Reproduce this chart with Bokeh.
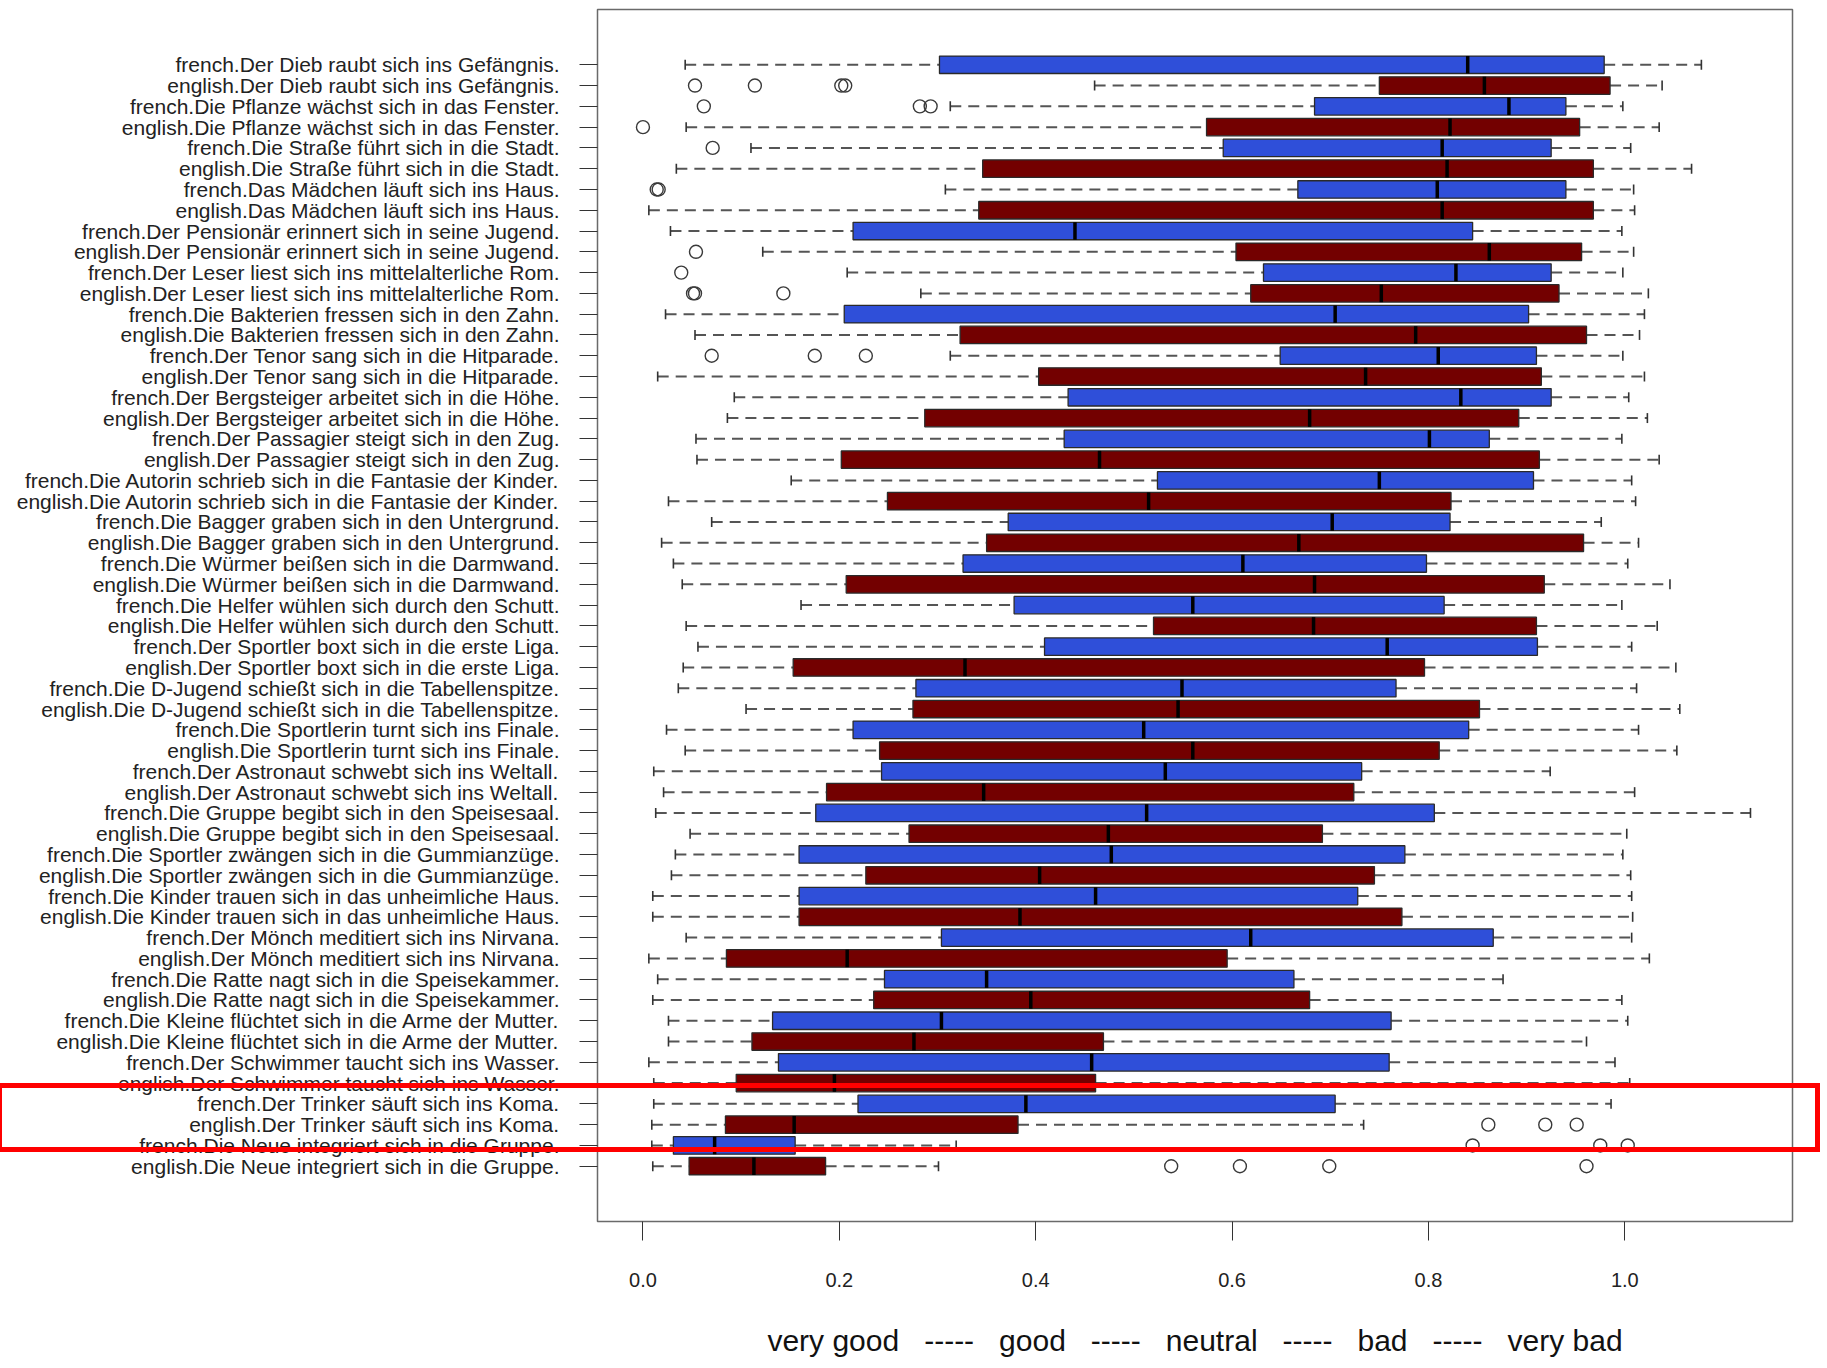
from bokeh.plotting import figure
from bokeh.models import Range1d, FixedTicker, ColumnDataSource, PrintfTickFormatter, Div
from bokeh.layouts import column
from bokeh.embed import file_html
from bokeh.resources import INLINE

# ---------------- data (top row first) ----------------
sentences = [
    "Der Dieb raubt sich ins Gefängnis.",
    "Die Pflanze wächst sich in das Fenster.",
    "Die Straße führt sich in die Stadt.",
    "Das Mädchen läuft sich ins Haus.",
    "Der Pensionär erinnert sich in seine Jugend.",
    "Der Leser liest sich ins mittelalterliche Rom.",
    "Die Bakterien fressen sich in den Zahn.",
    "Der Tenor sang sich in die Hitparade.",
    "Der Bergsteiger arbeitet sich in die Höhe.",
    "Der Passagier steigt sich in den Zug.",
    "Die Autorin schrieb sich in die Fantasie der Kinder.",
    "Die Bagger graben sich in den Untergrund.",
    "Die Würmer beißen sich in die Darmwand.",
    "Die Helfer wühlen sich durch den Schutt.",
    "Der Sportler boxt sich in die erste Liga.",
    "Die D-Jugend schießt sich in die Tabellenspitze.",
    "Die Sportlerin turnt sich ins Finale.",
    "Der Astronaut schwebt sich ins Weltall.",
    "Die Gruppe begibt sich in den Speisesaal.",
    "Die Sportler zwängen sich in die Gummianzüge.",
    "Die Kinder trauen sich in das unheimliche Haus.",
    "Der Mönch meditiert sich ins Nirvana.",
    "Die Ratte nagt sich in die Speisekammer.",
    "Die Kleine flüchtet sich in die Arme der Mutter.",
    "Der Schwimmer taucht sich ins Wasser.",
    "Der Trinker säuft sich ins Koma.",
    "Die Neue integriert sich in die Gruppe.",
]
groups = ["french", "english"]
labels = [g + "." + s for s in sentences for g in groups]

lower_whisker = [0.043, 0.460, 0.313, 0.044, 0.110, 0.034, 0.308, 0.006, 0.028, 0.122,
                 0.208, 0.283, 0.023, 0.053, 0.313, 0.015, 0.093, 0.086, 0.054, 0.055,
                 0.151, 0.026, 0.070, 0.019, 0.031, 0.040, 0.161, 0.044, 0.056, 0.041,
                 0.036, 0.105, 0.024, 0.043, 0.011, 0.021, 0.013, 0.048, 0.033, 0.029,
                 0.010, 0.010, 0.044, 0.006, 0.015, 0.010, 0.026, 0.026, 0.006, 0.011,
                 0.011, 0.009, 0.009, 0.010]
q1 = [0.302, 0.750, 0.684, 0.574, 0.591, 0.346, 0.667, 0.342, 0.214, 0.604,
      0.632, 0.619, 0.205, 0.323, 0.649, 0.403, 0.433, 0.287, 0.429, 0.202,
      0.524, 0.249, 0.372, 0.350, 0.326, 0.207, 0.378, 0.520, 0.409, 0.153,
      0.278, 0.275, 0.214, 0.241, 0.243, 0.187, 0.176, 0.271, 0.159, 0.227,
      0.159, 0.159, 0.304, 0.085, 0.246, 0.235, 0.132, 0.111, 0.138, 0.095,
      0.219, 0.084, 0.031, 0.047]
median = [0.840, 0.857, 0.882, 0.822, 0.814, 0.819, 0.809, 0.814, 0.440, 0.862,
          0.828, 0.752, 0.705, 0.787, 0.810, 0.736, 0.833, 0.679, 0.801, 0.465,
          0.750, 0.515, 0.702, 0.668, 0.611, 0.684, 0.560, 0.683, 0.758, 0.328,
          0.549, 0.545, 0.510, 0.560, 0.532, 0.347, 0.513, 0.474, 0.477, 0.404,
          0.461, 0.384, 0.619, 0.208, 0.350, 0.395, 0.304, 0.276, 0.457, 0.195,
          0.390, 0.154, 0.073, 0.113]
q3 = [0.979, 0.985, 0.940, 0.954, 0.925, 0.968, 0.940, 0.968, 0.845, 0.956,
      0.925, 0.933, 0.902, 0.961, 0.910, 0.915, 0.925, 0.892, 0.862, 0.913,
      0.907, 0.823, 0.822, 0.958, 0.798, 0.918, 0.816, 0.910, 0.911, 0.796,
      0.767, 0.852, 0.841, 0.811, 0.732, 0.724, 0.806, 0.692, 0.776, 0.745,
      0.728, 0.773, 0.866, 0.595, 0.663, 0.679, 0.762, 0.469, 0.760, 0.461,
      0.705, 0.382, 0.155, 0.186]
upper_whisker = [1.078, 1.038, 0.998, 1.035, 1.006, 1.068, 1.009, 1.010, 0.997, 1.009,
                 0.998, 1.024, 1.020, 1.015, 0.998, 1.020, 1.004, 1.023, 0.997, 1.035,
                 1.007, 1.011, 0.976, 1.014, 1.003, 1.046, 0.997, 1.033, 1.007, 1.052,
                 1.012, 1.056, 1.014, 1.053, 0.924, 1.010, 1.128, 1.002, 0.998, 1.006,
                 1.007, 1.008, 1.007, 1.025, 0.876, 0.997, 1.003, 0.961, 0.990, 1.005,
                 0.986, 0.734, 0.319, 0.301]

# outliers: row index (0 = top row) and value
outlier_row = [1, 1, 1, 1, 2, 2, 2, 3, 4, 6, 6, 9, 10, 11, 11, 11, 14, 14, 14,
               51, 51, 51, 52, 52, 52, 53, 53, 53, 53]
outlier_val = [0.053, 0.114, 0.202, 0.206, 0.062, 0.282, 0.293, 0.000, 0.071, 0.014, 0.016,
               0.054, 0.039, 0.051, 0.053, 0.143, 0.070, 0.175, 0.227,
               0.861, 0.919, 0.951, 0.845, 0.975, 1.003, 0.538, 0.608, 0.699, 0.961]

x_ticks = [0.0, 0.2, 0.4, 0.6, 0.8, 1.0]
x_title = "\u00a0\u00a0\u00a0".join(["very good", "-----", "good", "-----", "neutral",
                                     "-----", "bad", "-----", "very bad"])
highlight = ["french.Der Trinker säuft sich ins Koma.",
             "english.Der Trinker säuft sich ins Koma."]

group_colors = {"french": "#2f4fd9", "english": "#730000"}

# ---------------- layout constants ----------------
W, H = 1800, 1368
B_LEFT, B_RIGHT, B_TOP, B_BOTTOM = 597, 8, 9, 147
X0, X1 = -0.0463, 1.1708
Y0, Y1 = -1.66, 56.66
FONT = "Liberation Sans"

# ---------------- derived ----------------
n = len(labels)
ypos = [n - i for i in range(n)]
colors = [group_colors[l.split(".")[0]] for l in labels]
cap_half = 0.24
med_half = 0.42

src = ColumnDataSource(dict(
    y=ypos, lw=lower_whisker, q1=q1, med=median, q3=q3, uw=upper_whisker, color=colors,
    cap_lo=[y - cap_half for y in ypos], cap_hi=[y + cap_half for y in ypos],
    med_lo=[y - med_half for y in ypos], med_hi=[y + med_half for y in ypos],
))
out_src = ColumnDataSource(dict(x=outlier_val, y=[ypos[r] for r in outlier_row]))

p = figure(width=W, height=H,
           x_range=Range1d(X0, X1), y_range=Range1d(Y0, Y1),
           output_backend="svg", toolbar_location=None,
           min_border_left=B_LEFT, min_border_right=B_RIGHT,
           min_border_top=B_TOP, min_border_bottom=B_BOTTOM)
p.background_fill_color = "white"
p.border_fill_color = "white"
p.xgrid.visible = False
p.ygrid.visible = False
p.outline_line_color = "#6a6a6a"
p.outline_line_width = 1.5

# x axis
xa = p.xaxis[0]
xa.ticker = FixedTicker(ticks=x_ticks)
xa.formatter = PrintfTickFormatter(format="%.1f")
xa.axis_line_color = None
xa.major_tick_in = 0
xa.major_tick_out = 19
xa.major_tick_line_color = "#333333"
xa.minor_tick_line_color = None
xa.major_label_text_font = FONT
xa.major_label_text_font_size = "20px"
xa.major_label_text_color = "#222222"
xa.major_label_standoff = 32
xa.axis_label = x_title
xa.axis_label_text_font = FONT
xa.axis_label_text_font_style = "normal"
xa.axis_label_text_font_size = "30px"
xa.axis_label_text_color = "#111111"
xa.axis_label_standoff = 34

# y axis
ya = p.yaxis[0]
ya.ticker = FixedTicker(ticks=ypos)
ya.major_label_overrides = {y: l for y, l in zip(ypos, labels)}
ya.axis_line_color = None
ya.major_tick_in = 0
ya.major_tick_out = 18
ya.major_tick_line_color = "#333333"
ya.minor_tick_line_color = None
ya.major_label_text_font = FONT
ya.major_label_text_font_size = "21px"
ya.major_label_text_color = "#222222"
ya.major_label_standoff = 20

# whiskers
wkw = dict(source=src, line_color="#555555", line_width=2, line_dash="11 7")
p.segment(x0="lw", y0="y", x1="q1", y1="y", **wkw)
p.segment(x0="q3", y0="y", x1="uw", y1="y", **wkw)
ckw = dict(source=src, line_color="#333333", line_width=1.6)
p.segment(x0="lw", y0="cap_lo", x1="lw", y1="cap_hi", **ckw)
p.segment(x0="uw", y0="cap_lo", x1="uw", y1="cap_hi", **ckw)

# boxes
p.hbar(y="y", left="q1", right="q3", height=0.84, source=src,
       fill_color="color", line_color="#2a2a2a", line_width=1.3)
p.segment(x0="med", y0="med_lo", x1="med", y1="med_hi", source=src,
          line_color="black", line_width=3.5)

# outliers
p.scatter(x="x", y="y", source=out_src, marker="circle", size=13,
          fill_color=None, line_color="#3a3a3a", line_width=1.4)

# highlight frame around the two highlighted rows (drawn across labels and plot)
hy = [ypos[labels.index(h)] for h in highlight]
frame_h = H - B_TOP - B_BOTTOM
def y_px(v):
    return B_TOP + (Y1 - v) / (Y1 - Y0) * frame_h
hl_top = y_px(max(hy) + 0.87)
hl_bot = y_px(min(hy) - 1.21)
LW = 5
overlay = Div(width=1, height=1, text=(
    f'<div style="position:fixed;left:-3px;top:{hl_top - LW / 2:.1f}px;'
    f'width:1823px;height:{hl_bot - hl_top + LW:.1f}px;'
    f'border:{LW}px solid #ff0000;box-sizing:border-box;'
    f'pointer-events:none;z-index:10;"></div>'))

root = column(p, overlay)
open("out.html", "w").write(file_html(root, INLINE))
